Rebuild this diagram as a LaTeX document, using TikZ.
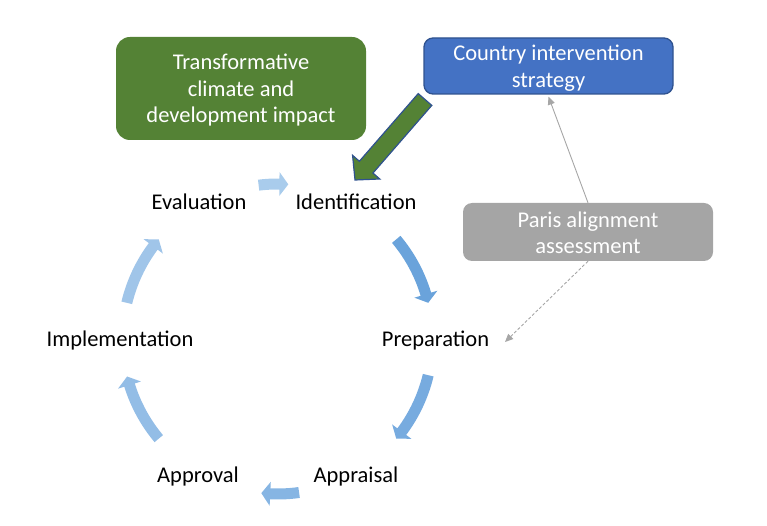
\documentclass[tikz,border=0pt]{standalone}
\usepackage{fontspec}
\setmainfont{Carlito}
\usetikzlibrary{calc,arrows.meta}
\definecolor{boxgreen}{HTML}{548235}
\definecolor{boxblue}{HTML}{4472C4}
\definecolor{blueedge}{HTML}{2F528F}
\definecolor{boxgray}{HTML}{A5A5A5}
\definecolor{linegray}{HTML}{A6A6A6}
\definecolor{cyA}{HTML}{A9CCEC}
\definecolor{cyB}{HTML}{6AA3DB}
\definecolor{cyC}{HTML}{77ABDF}
\definecolor{cyD}{HTML}{86B5E3}
\definecolor{cyE}{HTML}{93BDE6}
\definecolor{cyF}{HTML}{A0C5E9}
\newcommand{\cycarrow}[4]{%
  \fill[#4] (#1:160.5) arc[start angle=#1, end angle=#2, radius=160.5pt]
    -- (#2:167) -- (#3:155) -- (#2:143) -- (#2:149.5)
    arc[start angle=#2, end angle=#1, radius=149.5pt] -- cycle;}
\begin{document}
\begin{tikzpicture}[x=1pt,y=1pt,
  lbl/.style={font=\fontsize{22.5pt}{27pt}\selectfont, anchor=base, inner sep=0pt, text=black},
  boxtext/.style={align=center, text=white, inner sep=0pt,
    font=\fontsize{22.5pt}{26.5pt}\selectfont},
  greenbox/.style={fill=boxgreen, rounded corners=14pt, minimum width=250pt, minimum height=103pt},
  bluebox/.style={fill=boxblue, draw=blueedge, line width=1.3pt, rounded corners=9pt, minimum width=249pt, minimum height=56pt},
  graybox/.style={fill=boxgray, rounded corners=9pt, minimum width=250pt, minimum height=58pt},
  grayarrow/.style={draw=linegray, line width=0.9pt, -{Triangle[length=8pt,width=7pt]}},
]
\useasboundingbox (0,0) rectangle (767,525);

% boxes
\node[greenbox] (tcd) at (241,436.5) {};
\node[boxtext] (tcdtext) at ([yshift=-2pt]tcd.center) {Transformative\\climate and\\development impact};
\node[bluebox] (cis) at (548.5,459) {};
\node[boxtext] (cistext) at ([yshift=-2pt]cis.center) {Country intervention\\strategy};
\node[graybox] (paris) at (588,293) {};
\node[boxtext] (paristext) at ([yshift=-1pt]paris.center) {Paris alignment\\assessment};

% cycle labels
\node[lbl] (eval) at (199,315) {Evaluation};
\node[lbl] (ident) at (356,315) {Identification};
\node[lbl] (prep) at (435.5,179) {Preparation};
\node[lbl] (impl) at (120,179) {Implementation};
\node[lbl] (appr) at (198,43) {Approval};
\node[lbl] (aprs) at (356,43) {Appraisal};

% cycle arrows
\begin{scope}[shift={(277.5,186)}]
  \cycarrow{97}{89.3}{86}{cyA}
  \cycarrow{40}{16.8}{13.5}{cyB}
  \cycarrow{-13.5}{-36.7}{-40}{cyC}
  \cycarrow{-82}{-92.7}{-96}{cyD}
  \cycarrow{-140}{-162.7}{-166}{cyE}
  \cycarrow{166.5}{143.3}{140}{cyF}
\end{scope}

% green block arrow from strategy to identification
\coordinate (gtail) at (425,425.5);
\coordinate (gtip) at (355,345);
\coordinate (ghb) at ($(gtip)!17pt!(gtail)$);
\fill[boxgreen, draw=blueedge, line width=1.2pt, line join=miter]
  ($(gtail)!9pt!90:(gtip)$) -- ($(ghb)!9pt!-90:(gtail)$) -- ($(ghb)!18pt!-90:(gtail)$)
  -- (gtip) -- ($(ghb)!18pt!90:(gtail)$) -- ($(ghb)!9pt!90:(gtail)$)
  -- ($(gtail)!9pt!-90:(gtip)$) -- cycle;

% gray connectors
\draw[grayarrow] (paris.north) -- ([yshift=-2pt]cis.south);
\coordinate (prepin) at (505,183);
\draw[grayarrow, dash pattern=on 3pt off 2pt] (paris.south) -- (prepin);
\end{tikzpicture}
\end{document}
